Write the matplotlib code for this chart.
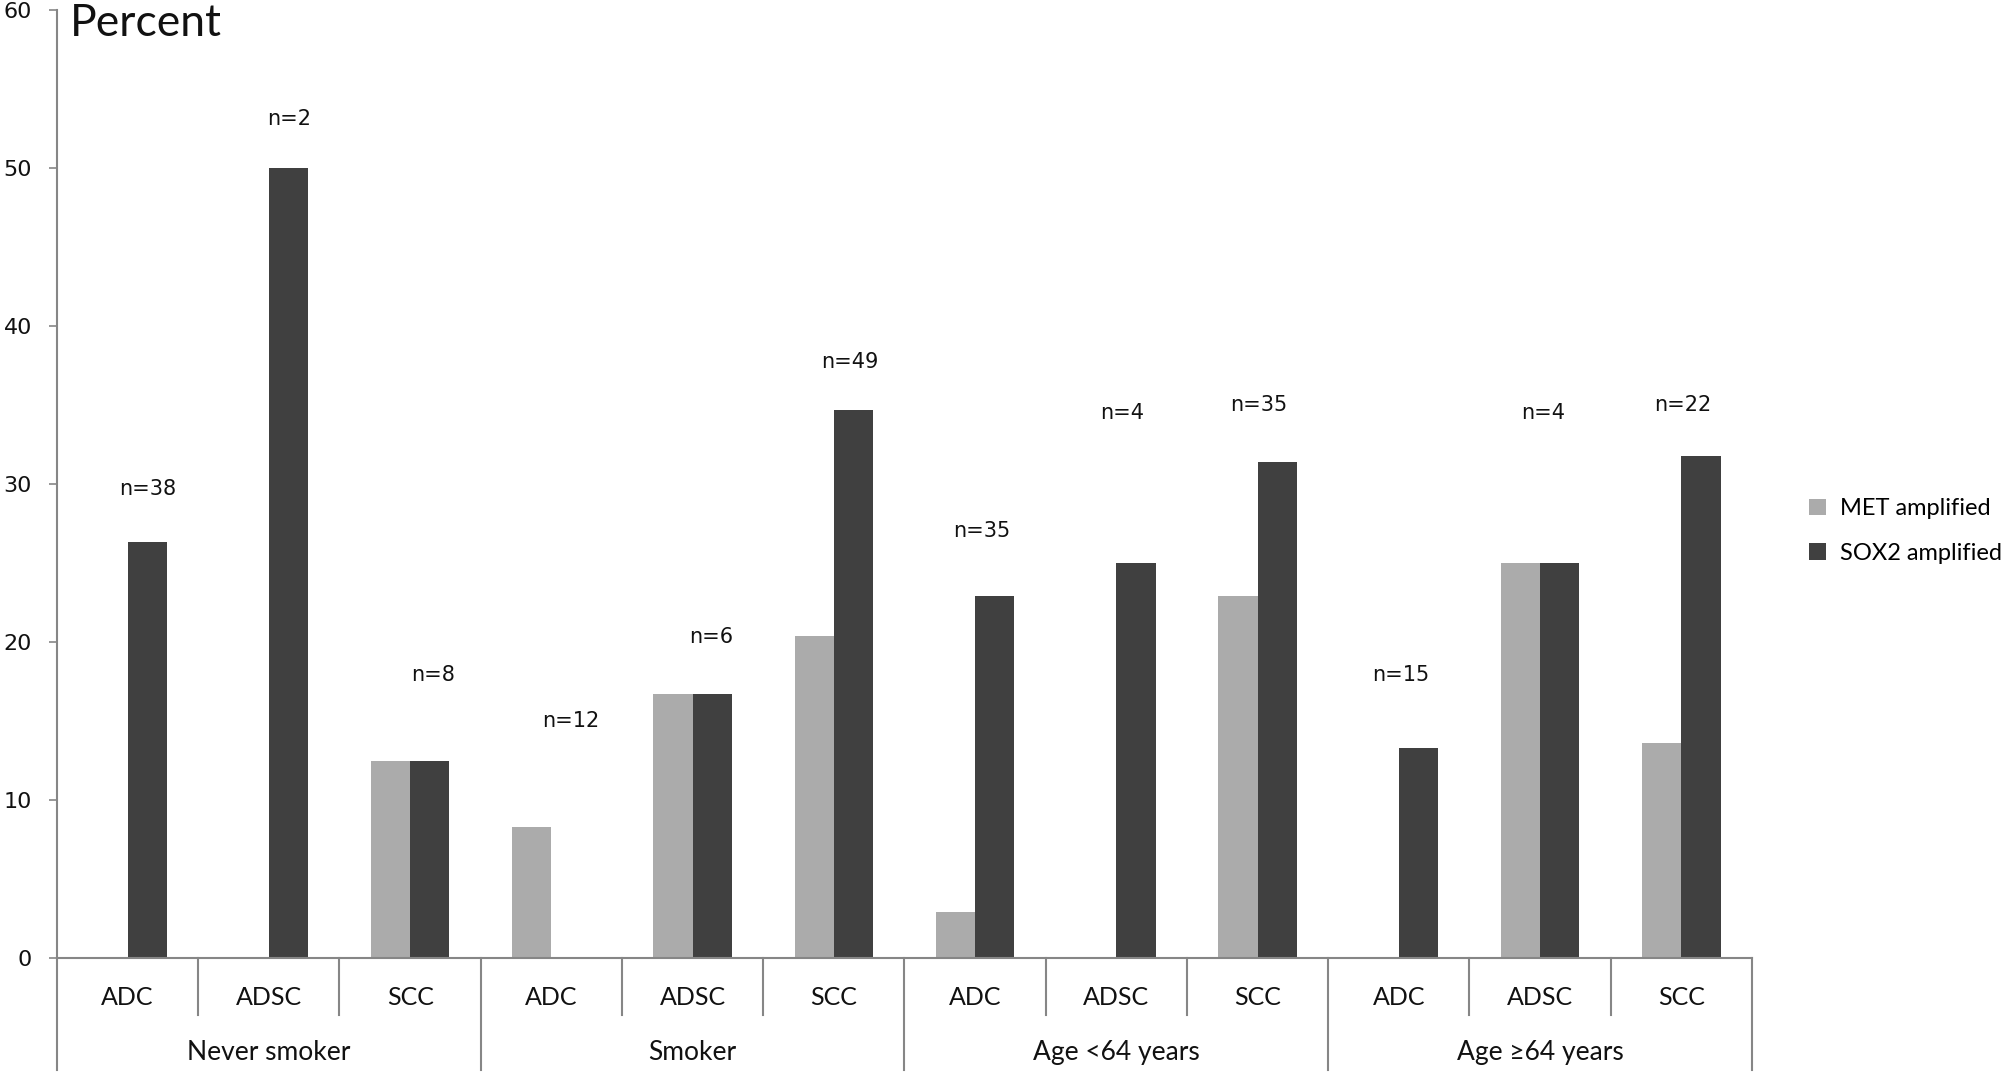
import matplotlib.pyplot as plt
import numpy as np

# data
groups = ['Never smoker', 'Smoker', 'Age <64 years', 'Age \u226564 years']
subtypes = ['ADC', 'ADSC', 'SCC']
met = [0, 0, 12.5, 8.3, 16.7, 20.4, 2.9, 0, 22.9, 0, 25.0, 13.6]
sox2 = [26.3, 50.0, 12.5, 0, 16.7, 34.7, 22.9, 25.0, 31.4, 13.3, 25.0, 31.8]
n_labels = ['n=38', 'n=2', 'n=8', 'n=12', 'n=6', 'n=49',
            'n=35', 'n=4', 'n=35', 'n=15', 'n=4', 'n=22']
# where the n= labels sit (height in percent, shift from category centre)
n_label_y = [29.7, 53.1, 17.9, 15.0, 20.3, 37.7, 27.0, 34.5, 35.0, 17.9, 34.5, 35.0]
n_label_dx = [0.14, 0.14, 0.16, 0.14, 0.13, 0.11, 0.05, 0.04, 0.01, 0.01, 0.02, 0.01]

met_color = '#ababab'
sox_color = '#404040'
axis_color = '#868686'
cat_font = 'Lato'

fig = plt.figure(figsize=(20.08, 10.72), dpi=100)
ax = fig.add_axes([57 / 2008, 1 - 958 / 1072, (1752 - 57) / 2008, (958 - 10) / 1072])

x = np.arange(len(met))
w = 0.277
ax.bar(x - w / 2, met, w, color=met_color, label='MET amplified')
ax.bar(x + w / 2, sox2, w, color=sox_color, label='SOX2 amplified')

for i, lab in enumerate(n_labels):
    ax.text(x[i] + n_label_dx[i], n_label_y[i], lab, ha='center', va='center',
            fontsize=15, family='DejaVu Sans', color='#111111')

ax.set_xlim(-0.5, len(met) - 0.5)
ax.set_ylim(0, 60)
ax.set_yticks(range(0, 61, 10))
ax.tick_params(axis='y', direction='out', length=6, width=1.2, color=axis_color,
               labelsize=16, pad=12, labelcolor='#111111')
ax.set_xticks([])
for s in ['top', 'right']:
    ax.spines[s].set_visible(False)
for s in ['left', 'bottom']:
    ax.spines[s].set_color(axis_color)
    ax.spines[s].set_linewidth(1.5)

# two level category axis drawn by hand
short_end = -3.6
long_end = -7.1
for k in range(len(met) + 1):
    bottom = long_end if k % 3 == 0 else short_end
    ax.plot([k - 0.5, k - 0.5], [0, bottom], color=axis_color, lw=1.5, clip_on=False)
for i in range(len(met)):
    ax.text(x[i], -2.47, subtypes[i % 3], ha='center', va='center',
            fontsize=18, family=cat_font, color='#111111')
for g, name in enumerate(groups):
    ax.text(3 * g + 1, -6.0, name, ha='center', va='center',
            fontsize=19, family=[cat_font, 'DejaVu Sans'], color='#111111')

fig.text(70 / 2008, 1 - 24 / 1072, 'Percent', ha='left', va='center',
         fontsize=32, family=cat_font, color='#111111')

ax.legend(loc='center left', bbox_to_anchor=(1788 / 2008, 1 - 531 / 1072),
          bbox_transform=fig.transFigure, frameon=False, prop={'family': cat_font, 'size': 17},
          handlelength=0.7, handleheight=0.7, handletextpad=0.6, labelspacing=1.0)

fig.savefig('out.png', dpi=100)
